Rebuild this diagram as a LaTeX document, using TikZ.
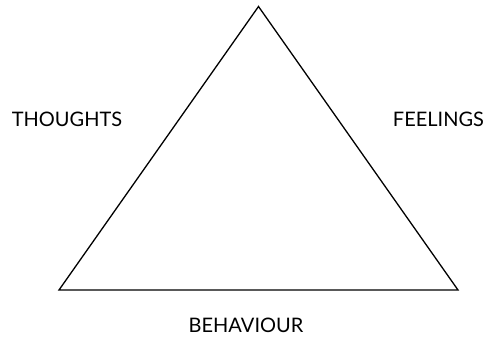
\documentclass[tikz,border=0pt]{standalone}
\usepackage{fontspec}
\setmainfont{Lato}
\begin{document}
\begin{tikzpicture}[x=1pt,y=-1pt,
  lbl/.style={font=\fontsize{20}{22}\selectfont, inner sep=0pt, anchor=center},
  tri/.style={draw=black, line width=1.3pt, line join=miter}]
\useasboundingbox (0,0) rectangle (488,338);
\coordinate (apex) at (258.5,6.5);
\coordinate (bl) at (59,290);
\coordinate (br) at (458,290);
\draw[tri] (apex) -- (bl) -- (br) -- cycle;
\node[lbl] (thoughts) at (67,119.5) {THOUGHTS};
\node[lbl] (feelings) at (438.5,119.5) {FEELINGS};
\node[lbl] (behaviour) at (246,325.5) {BEHAVIOUR};
\end{tikzpicture}
\end{document}
